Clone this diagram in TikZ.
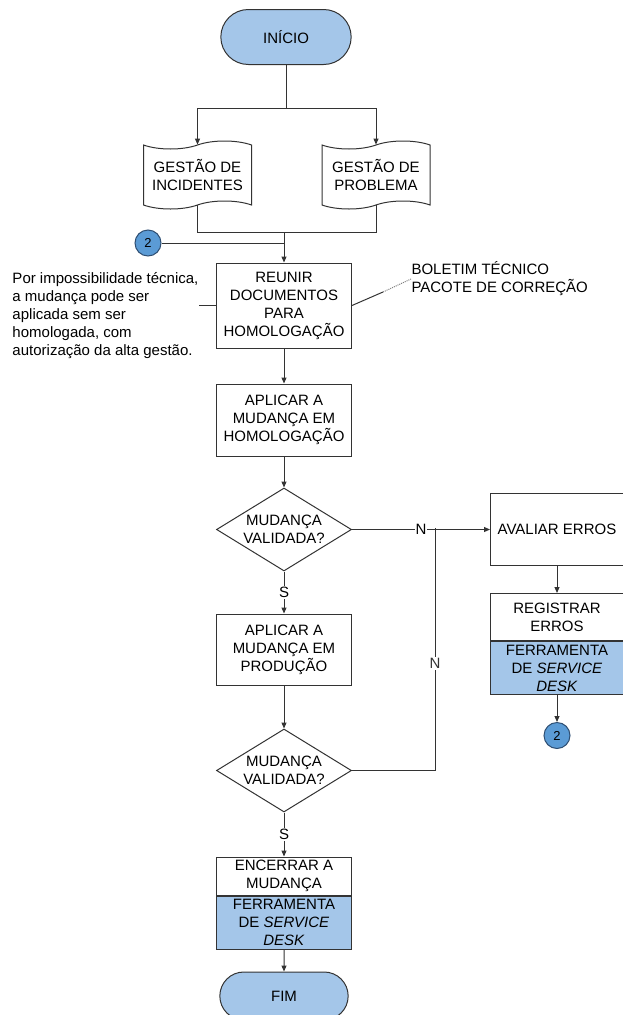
\documentclass[tikz,border=0pt]{standalone}
\usepackage{fontspec}
\setmainfont{Liberation Sans}
\usepackage{xcolor}
\definecolor{shade}{HTML}{A4C6E9}
\definecolor{connector}{HTML}{5B9BD5}
\definecolor{connedge}{HTML}{2F4F73}
\definecolor{outline}{HTML}{333333}
\usetikzlibrary{arrows.meta, shapes.geometric, shapes.misc, shapes.symbols, positioning}

\begin{document}
\begin{tikzpicture}[x=1pt, y=-1pt, >={Triangle[length=6pt, width=5pt]},
  line width=1pt,
  every node/.style={font=\fontsize{15}{18}\selectfont, align=center},
  startstop/.style={draw=outline, fill=shade, rounded rectangle,
                    minimum width=135pt, minimum height=52pt},
  process/.style={draw=outline, fill=white, rectangle,
                  minimum width=135pt, inner xsep=3pt, inner ysep=2pt},
  toolbox/.style={process, fill=shade},
  docshape/.style={draw=outline, fill=white, tape, tape bend height=8pt,
                   minimum width=108pt, minimum height=68pt},
  decision/.style={draw=outline, fill=white, diamond, aspect=1.63, inner sep=0pt,
                   minimum width=135pt, minimum height=83pt},
  offpage/.style={draw=connedge, fill=connector, circle, minimum size=26pt,
                  inner sep=0pt, font=\fontsize{13}{15}\selectfont},
  flow/.style={->, draw=outline},
  branch/.style={fill=white, inner sep=1pt}]

  \useasboundingbox (0,0) rectangle (622,1015);

  % top: start and the two sources
  \node[startstop, minimum width=137pt, minimum height=55pt] (inicio) at (286,37) {INÍCIO};
  \node[docshape] (incid) at (197.5,175) {GESTÃO DE\\INCIDENTES};
  \node[docshape] (probl) at (376,175) {GESTÃO DE\\PROBLEMA};
  \coordinate (split) at (286,108);
  \coordinate (join) at (284,232);

  \draw[outline] (inicio.south) -- (split);
  \draw[flow] (split) -| (incid.north);
  \draw[flow] (split) -| (probl.north);
  \draw[outline] (incid.south) |- (join);
  \draw[outline] (probl.south) |- (join);

  % main column
  \node[process, minimum height=85pt] (reunir) at (284,305.5)
    {REUNIR\\DOCUMENTOS\\PARA\\HOMOLOGAÇÃO};
  \node[process, minimum height=72pt, below=35pt of reunir] (aplhom)
    {APLICAR A\\MUDANÇA EM\\HOMOLOGAÇÃO};
  \node[decision, below=31pt of aplhom] (valid1) {MUDANÇA\\VALIDADA?};
  \node[process, minimum height=71pt, below=42pt of valid1] (aplprod)
    {APLICAR A\\MUDANÇA EM\\PRODUÇÃO};
  \node[decision, below=43pt of aplprod] (valid2) {MUDANÇA\\VALIDADA?};
  \node[process, minimum height=38pt, below=44pt of valid2] (encerrar)
    {ENCERRAR A\\MUDANÇA};
  \node[toolbox, minimum height=53pt, below=0pt of encerrar] (enctool)
    {FERRAMENTA\\DE \textit{SERVICE}\\\textit{DESK}};
  \node[startstop, minimum height=48pt, below=22pt of enctool] (fim) {FIM};

  % error branch
  \node[process, minimum width=133pt, minimum height=72pt,
        right=138pt of valid1] (avaliar) {AVALIAR ERROS};
  \node[process, minimum width=133pt, minimum height=47pt,
        below=27pt of avaliar] (registrar) {REGISTRAR\\ERROS};
  \node[toolbox, minimum width=133pt, minimum height=53pt,
        below=0pt of registrar] (regtool)
    {FERRAMENTA\\DE \textit{SERVICE}\\\textit{DESK}};
  \node[offpage, below=27pt of regtool] (back) {2};
  \node[offpage] (entry) at (148,243) {2};
  \coordinate (merge) at (435,527.5);

  % annotations
  \node[anchor=west, align=left, inner sep=0pt] (obs) at (12,316)
    {Por impossibilidade técnica,\\a mudança pode ser\\aplicada sem ser\\homologada, com\\autorização da alta gestão.};
  \node[anchor=west, align=left, inner sep=0pt] (anexos) at (411,279)
    {BOLETIM TÉCNICO\\PACOTE DE CORREÇÃO};
  \coordinate (brk) at (383,292);

  \draw[outline] (reunir.west) -- (reunir.west -| obs.east);
  \draw[outline] (reunir.east) -- (brk);
  \draw[gray, densely dotted] (brk) -- (anexos.west);

  % connectors
  \draw[flow] (join) -- (reunir.north);
  \draw[outline] (entry.east) -- (entry.east -| reunir.north);
  \draw[flow] (reunir) -- (aplhom);
  \draw[flow] (aplhom) -- (valid1);
  \draw[flow] (valid1.south) -- node[branch] {S} (aplprod.north);
  \draw[flow] (aplprod) -- (valid2);
  \draw[flow] (valid2.south) -- node[branch] {S} (encerrar.north);
  \draw[flow] (enctool) -- (fim);
  \draw[flow] (valid1.east) -- node[branch] {N} (avaliar.west);
  \draw[outline] (valid2.east) -| node[branch, pos=0.72] {N} (merge);
  \draw[flow] (avaliar) -- (registrar);
  \draw[flow] (regtool) -- (back);

\end{tikzpicture}
\end{document}
